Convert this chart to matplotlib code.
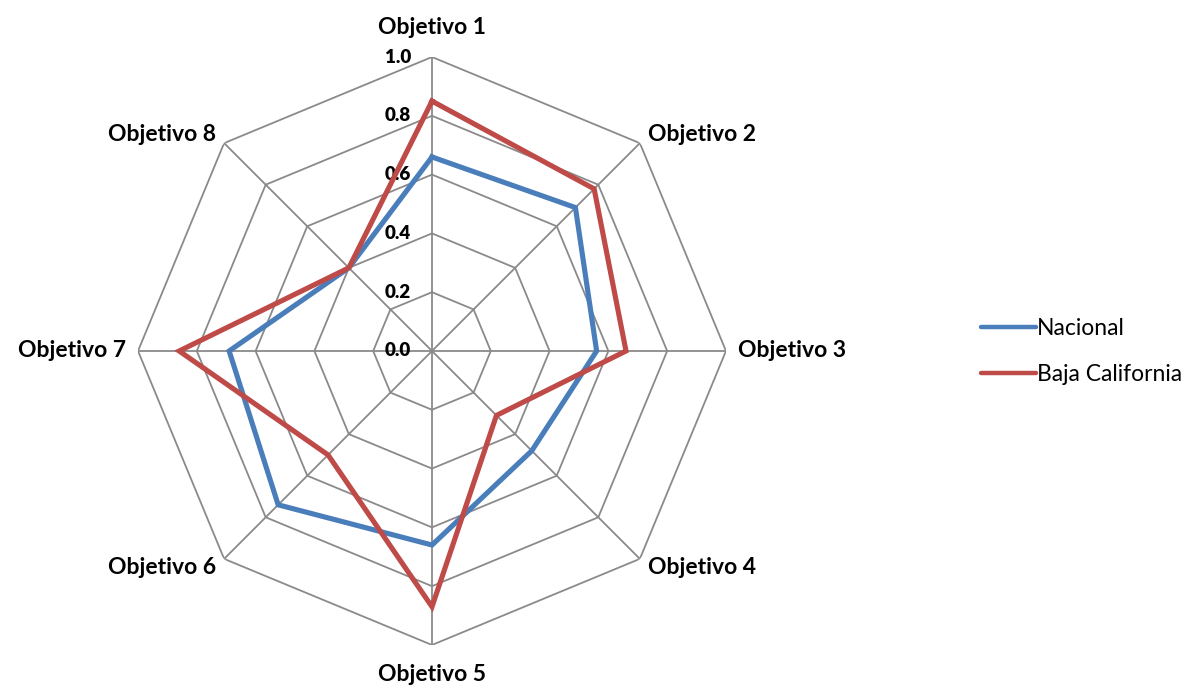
import matplotlib
matplotlib.use("Agg")
import matplotlib.pyplot as plt
import matplotlib.transforms as mtransforms
import numpy as np

plt.rcParams["font.family"] = ["Lato", "DejaVu Sans"]

# Data
categories = ["Objetivo 1", "Objetivo 2", "Objetivo 3", "Objetivo 4",
              "Objetivo 5", "Objetivo 6", "Objetivo 7", "Objetivo 8"]
nacional = [0.66, 0.69, 0.56, 0.48, 0.66, 0.74, 0.69, 0.40]
baja_california = [0.85, 0.78, 0.66, 0.31, 0.87, 0.50, 0.86, 0.40]
ring_values = [0.0, 0.2, 0.4, 0.6, 0.8, 1.0]
ring_labels = ["0.0", "0.2", "0.4", "0.6", "0.8", "1.0"]

BLUE = "#4A7EBB"
RED = "#BE4B48"
GRID = "#8A8A8A"

n = len(categories)
theta = np.arange(n) * 2 * np.pi / n
theta_closed = np.append(theta, theta[0])

fig = plt.figure(figsize=(11.96, 6.86), dpi=100)
ax = fig.add_axes([0.1154, 0.0598, 0.4916, 0.8571], projection="polar")
ax.set_theta_offset(np.pi / 2)
ax.set_theta_direction(-1)
ax.set_ylim(0, 1)
ax.grid(False)
ax.spines["polar"].set_visible(False)
ax.set_xticks([])
ax.set_yticks([])
ax.patch.set_alpha(0)

# polygon grid
for r in ring_values[1:]:
    ax.plot(theta_closed, [r] * (n + 1), color=GRID, lw=1.3, zorder=1)
for t in theta:
    ax.plot([t, t], [0, 1], color=GRID, lw=1.3, zorder=1)

# ring value labels
off = mtransforms.offset_copy(ax.transData, fig=fig, x=-21, y=0, units="dots")
for r, lab in zip(ring_values, ring_labels):
    ax.text(0, r, lab, transform=off, ha="right", va="center",
            fontsize=13.5, fontweight="heavy", zorder=3)

# series
l1, = ax.plot(theta_closed, nacional + nacional[:1], color=BLUE, lw=3.7,
              zorder=4, label="Nacional", solid_joinstyle="miter")
l2, = ax.plot(theta_closed, baja_california + baja_california[:1], color=RED,
              lw=3.7, zorder=5, label="Baja California", solid_joinstyle="miter")

# category labels
for t, lab in zip(theta, categories):
    deg = np.degrees(t) % 360
    if deg in (0, 180):
        ax.text(t, 1.1, lab, ha="center", va="center", fontsize=16.5, fontweight="bold")
    elif deg < 180:
        ax.text(t, 1.04, lab, ha="left", va="center", fontsize=16.5, fontweight="bold")
    else:
        ax.text(t, 1.04, lab, ha="right", va="center", fontsize=16.5, fontweight="bold")

leg = fig.legend(handles=[l1, l2], loc="center left", bbox_to_anchor=(0.803, 0.488),
                 frameon=False, fontsize=16.5, handlelength=2.4, handletextpad=0.05,
                 labelspacing=1.1)
for h in leg.get_lines():
    h.set_linewidth(3.2)
    h.set_solid_capstyle("round")

fig.savefig("out.png", dpi=100)
